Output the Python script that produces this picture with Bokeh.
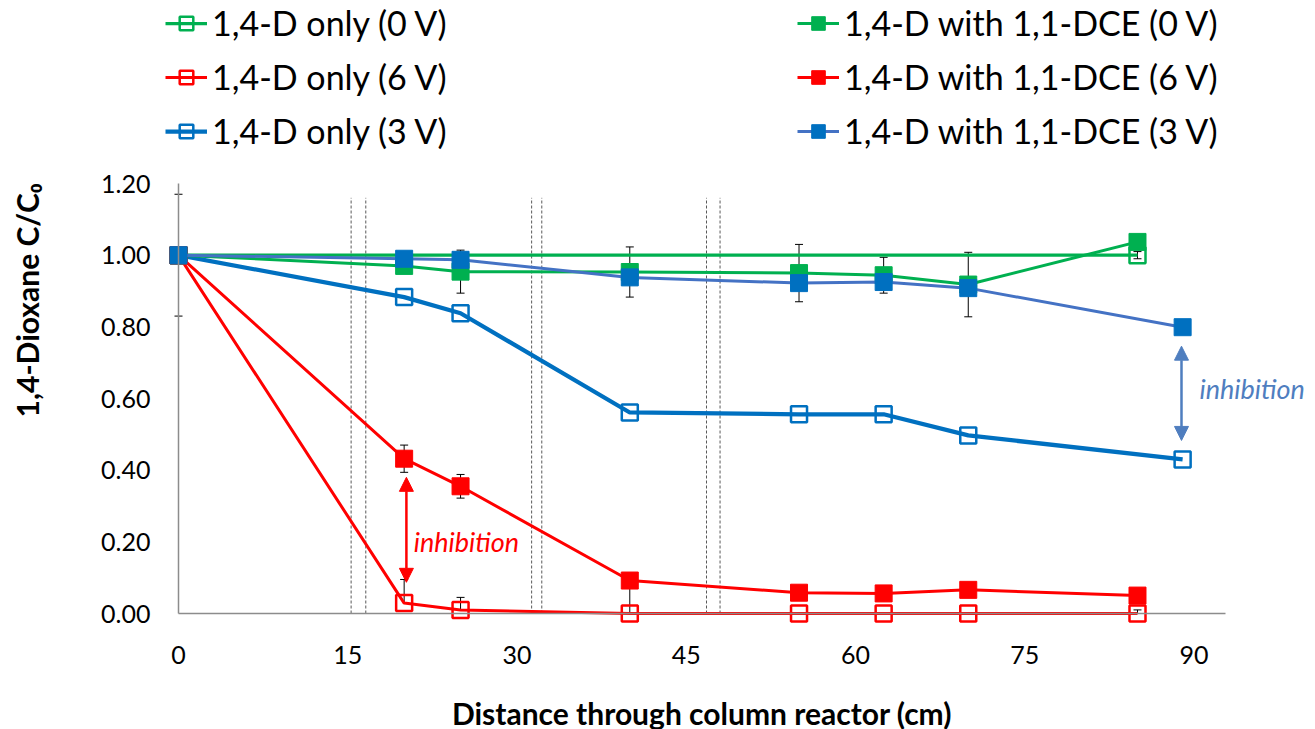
import numpy as np
from bokeh.plotting import figure
from bokeh.models import (ColumnDataSource, Range1d, FixedTicker, NumeralTickFormatter,
                          Legend, LegendItem, Whisker, TeeHead, Arrow, NormalHead, Label)
from bokeh.embed import file_html
from bokeh.resources import INLINE

# ---------------- data ----------------
distance = [0, 20, 25, 40, 55, 62.5, 70, 85]
distance_3v = [0, 20, 25, 40, 55, 62.5, 70, 89]
distance_ctrl = [0, 85]

only_0v = [1.00, 1.00]
only_0v_err = [0.0, 0.01]
only_6v = [1.00, 0.029, 0.010, 0.0, 0.0, 0.0, 0.0, 0.0]
only_6v_err = [0.0, 0.066, 0.035, 0.08, 0.0, 0.0, 0.0, 0.01]
only_3v = [1.00, 0.883, 0.838, 0.561, 0.556, 0.556, 0.497, 0.430]

dce_0v = [1.00, 0.970, 0.954, 0.953, 0.950, 0.944, 0.918, 1.037]
dce_0v_err = [0.17, 0.01, 0.06, 0.07, 0.08, 0.05, 0.09, 0.0]
dce_6v = [1.00, 0.432, 0.355, 0.092, 0.058, 0.056, 0.066, 0.050]
dce_6v_err = [0.0, 0.038, 0.033, 0.0, 0.0, 0.0, 0.0, 0.0]
dce_3v = [1.00, 0.990, 0.987, 0.938, 0.922, 0.925, 0.908, 0.799]

labels_only = ["1,4-D only (0 V)", "1,4-D only (6 V)", "1,4-D only (3 V)"]
labels_dce = ["1,4-D with 1,1-DCE (0 V)", "1,4-D with 1,1-DCE (6 V)", "1,4-D with 1,1-DCE (3 V)"]

electrode_x = [15.3, 16.6, 31.3, 32.2, 46.8, 48.0]
electrode_top = 1.16

x_ticks = [0, 15, 30, 45, 60, 75, 90]
y_ticks = [0.0, 0.2, 0.4, 0.6, 0.8, 1.0, 1.2]
x_axis_max = 92.8
y_axis_max = 1.2

GREEN = "#00B050"
RED = "#FF0000"
BLUE = "#0070C0"
BLUE_LINE = "#4472C4"
ANNO_BLUE = "#4F7EBF"
FONT = "Lato"

# ---------------- layout: whole canvas is the frame ----------------
W, H = 1315, 729
X0_PX, X1_PX = 178, 1225     # pixel of x=0 and x=x_axis_max
Y0_PX, Y1_PX = 613, 183      # pixel of y=0 and y=y_axis_max
sx = (X1_PX - X0_PX) / x_axis_max
sy = (Y0_PX - Y1_PX) / y_axis_max

p = figure(width=W, height=H, output_backend="svg", toolbar_location=None,
           x_range=Range1d(-X0_PX / sx, (W - X0_PX) / sx),
           y_range=Range1d(-(H - Y0_PX) / sy, Y0_PX / sy),
           min_border_left=0, min_border_right=0, min_border_top=0, min_border_bottom=0)
p.outline_line_color = None
p.xgrid.visible = False
p.ygrid.visible = False

for ax in (p.xaxis[0], p.yaxis[0]):
    ax.fixed_location = 0
    ax.axis_line_color = "#8C8C8C"
    ax.axis_line_width = 1.5
    ax.major_tick_line_color = None
    ax.minor_tick_line_color = None
    ax.major_tick_out = 0
    ax.major_tick_in = 0
    ax.major_label_text_font = FONT
    ax.major_label_text_font_size = "25px"
    ax.major_label_text_color = "#000000"

p.xaxis.bounds = (0, x_axis_max)
p.yaxis.bounds = (0, y_axis_max)
p.xaxis.ticker = FixedTicker(ticks=x_ticks)
p.yaxis.ticker = FixedTicker(ticks=y_ticks)
p.yaxis.formatter = NumeralTickFormatter(format="0.00")
p.xaxis.major_label_standoff = 32
p.yaxis.major_label_standoff = 28
p.xaxis.axis_label = "Distance through column reactor (cm)"
p.xaxis.axis_label_text_font = FONT
p.xaxis.axis_label_text_font_style = "bold"
p.xaxis.axis_label_text_font_size = "30px"
p.xaxis.axis_label_text_color = "#000000"
p.xaxis.axis_label_standoff = 28

# electrode dashed lines
p.segment(x0=electrode_x, y0=[0] * len(electrode_x), x1=electrode_x,
          y1=[electrode_top] * len(electrode_x), line_color="#595959",
          line_width=1, line_dash="3 2")

def whisker(xs, ys, errs, lower_head=True):
    xs_, up, lo = [], [], []
    for x, y, e in zip(xs, ys, errs):
        if e > 0:
            xs_.append(x)
            up.append(y + e)
            lo.append(max(y - e, 0.0) if lower_head else y)
    src = ColumnDataSource(dict(base=xs_, upper=up, lower=lo))
    w = Whisker(base="base", upper="upper", lower="lower", source=src, dimension="height",
                line_color="#000000", line_width=1,
                upper_head=TeeHead(size=8, line_color="#000000", line_width=1),
                lower_head=TeeHead(size=8, line_color="#000000", line_width=1) if lower_head else None)
    p.add_layout(w)

whisker(distance_ctrl, only_0v, only_0v_err)
whisker(distance, only_6v, only_6v_err, lower_head=False)
whisker(distance, dce_0v, dce_0v_err)
whisker(distance, dce_6v, dce_6v_err)

def series(xs, ys, color, line_color, lw, filled):
    src = ColumnDataSource(dict(x=xs, y=ys))
    ln = p.line("x", "y", source=src, line_color=line_color, line_width=lw)
    if filled:
        mk = p.scatter("x", "y", source=src, marker="square", size=17,
                       fill_color=color, line_color=color, line_width=1)
    else:
        mk = p.scatter("x", "y", source=src, marker="square", size=16,
                       fill_alpha=0, line_color=color, line_width=2.5)
    return [ln, mk]

r_o0 = series(distance_ctrl, only_0v, GREEN, GREEN, 3.25, False)
r_o6 = series(distance, only_6v, RED, RED, 3.0, False)
r_o3 = series(distance_3v, only_3v, BLUE, BLUE, 4.25, False)
r_d0 = series(distance, dce_0v, GREEN, GREEN, 3.0, True)
r_d6 = series(distance, dce_6v, RED, RED, 3.0, True)
r_d3 = series(distance_3v, dce_3v, BLUE, BLUE_LINE, 3.0, True)

def make_legend(items, loc):
    lg = Legend(items=items, location=loc, orientation="vertical",
                label_text_font=FONT, label_text_font_size="34px",
                label_text_color="#000000",
                glyph_width=42, glyph_height=34, label_height=30,
                label_standoff=5, spacing=13, padding=0, margin=0,
                border_line_color=None, background_fill_alpha=0)
    p.add_layout(lg, "center")

make_legend([LegendItem(label=labels_only[0], renderers=r_o0),
             LegendItem(label=labels_only[1], renderers=r_o6),
             LegendItem(label=labels_only[2], renderers=r_o3)], (165, 578))
make_legend([LegendItem(label=labels_dce[0], renderers=r_d0),
             LegendItem(label=labels_dce[1], renderers=r_d6),
             LegendItem(label=labels_dce[2], renderers=r_d3)], (797, 578))

# inhibition annotations
p.add_layout(Arrow(x_start=20.2, y_start=0.087, x_end=20.2, y_end=0.38,
                   line_color=RED, line_width=2.5,
                   start=NormalHead(size=14, fill_color=RED, line_color=RED),
                   end=NormalHead(size=14, fill_color=RED, line_color=RED)))
p.add_layout(Arrow(x_start=88.9, y_start=0.483, x_end=88.9, y_end=0.746,
                   line_color=ANNO_BLUE, line_width=2.5,
                   start=NormalHead(size=14, fill_color=ANNO_BLUE, line_color=ANNO_BLUE),
                   end=NormalHead(size=14, fill_color=ANNO_BLUE, line_color=ANNO_BLUE)))
p.add_layout(Label(x=20.85, y=0.2, text="inhibition", text_color=RED,
                   text_font=FONT, text_font_style="italic", text_font_size="27px",
                   text_align="left", text_baseline="middle"))
p.add_layout(Label(x=90.5, y=0.628, text="inhibition", text_color=ANNO_BLUE,
                   text_font=FONT, text_font_style="italic", text_font_size="27px",
                   text_align="left", text_baseline="middle"))

# y axis title
p.add_layout(Label(x=0, y=0.874, x_offset=-152, text="1,4-Dioxane C/C\u2080",
                   angle=np.pi / 2, text_font=FONT, text_font_style="bold",
                   text_font_size="30px", text_color="#000000",
                   text_align="center", text_baseline="middle"))

open("out.html", "w").write(file_html(p, INLINE))
